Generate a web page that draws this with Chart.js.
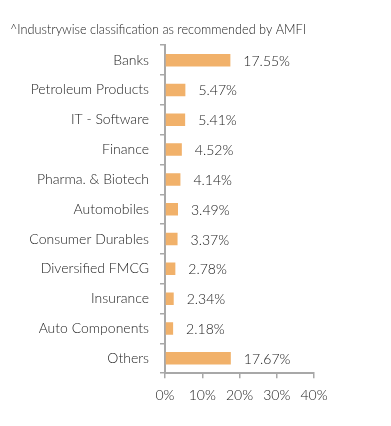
<!DOCTYPE html>
<html>
<head>
<meta charset="utf-8">
<script src="https://cdn.jsdelivr.net/npm/chart.js@4"></script>
<style>
  body { margin: 0; background: #fff; }
  canvas { display: block; }
</style>
</head>
<body>
<canvas id="grafico" width="391" height="426"></canvas>
<script>
// Dados do gráfico
const categorias = ['Banks', 'Petroleum Products', 'IT - Software', 'Finance', 'Pharma. & Biotech',
  'Automobiles', 'Consumer Durables', 'Diversified FMCG', 'Insurance', 'Auto Components', 'Others'];
const pesos = [17.55, 5.47, 5.41, 4.52, 4.14, 3.49, 3.37, 2.78, 2.34, 2.18, 17.67];
const ticksX = [0, 10, 20, 30, 40];
const titulo = '^Industrywise classification as recommended by AMFI';

const corBarra = '#F1B16A';
const corEixo = '#a8a8a8';
const corTexto = '#222222';
const fonte = 'Lato, "Open Sans", sans-serif';

// rótulos de valor à direita das barras
const rotulosValor = {
  id: 'rotulosValor',
  afterDatasetsDraw(chart) {
    const ctx = chart.ctx;
    const meta = chart.getDatasetMeta(0);
    ctx.save();
    ctx.font = '300 14px ' + fonte;
    ctx.fillStyle = corTexto;
    ctx.textAlign = 'left';
    ctx.textBaseline = 'middle';
    meta.data.forEach((bar, i) => {
      ctx.fillText(pesos[i].toFixed(2) + '%', bar.x + 13, bar.y + 1);
    });
    ctx.restore();
  }
};

new Chart(document.getElementById('grafico').getContext('2d'), {
  type: 'bar',
  data: {
    labels: categorias,
    datasets: [{
      data: pesos,
      backgroundColor: corBarra,
      borderWidth: 0,
      barPercentage: 0.42,
      categoryPercentage: 1
    }]
  },
  options: {
    indexAxis: 'y',
    responsive: false,
    animation: false,
    layout: { padding: { left: 10, right: 77, top: 0, bottom: 13 } },
    plugins: {
      legend: { display: false },
      tooltip: { enabled: false },
      title: {
        display: true,
        text: titulo,
        align: 'start',
        color: corTexto,
        font: { family: fonte, size: 12.7, weight: 300 },
        padding: { top: 22, bottom: 8 }
      }
    },
    scales: {
      y: {
        afterFit: (scale) => { scale.width = 155; },
        grid: { drawOnChartArea: false, offset: true, tickLength: 5, color: corEixo, lineWidth: 1.5 },
        border: { color: corEixo, width: 2 },
        ticks: { color: corTexto, padding: 11, font: { family: fonte, size: 14, weight: 300 } }
      },
      x: {
        min: 0,
        max: 40,
        afterBuildTicks: (scale) => { scale.ticks = ticksX.map(v => ({ value: v })); },
        grid: { drawOnChartArea: false, tickLength: 5, color: corEixo, lineWidth: 1.5 },
        border: { color: corEixo, width: 2 },
        ticks: {
          color: corTexto,
          padding: 9,
          font: { family: fonte, size: 14, weight: 300 },
          callback: (v) => v + '%'
        }
      }
    }
  },
  plugins: [rotulosValor]
});
</script>
</body>
</html>
